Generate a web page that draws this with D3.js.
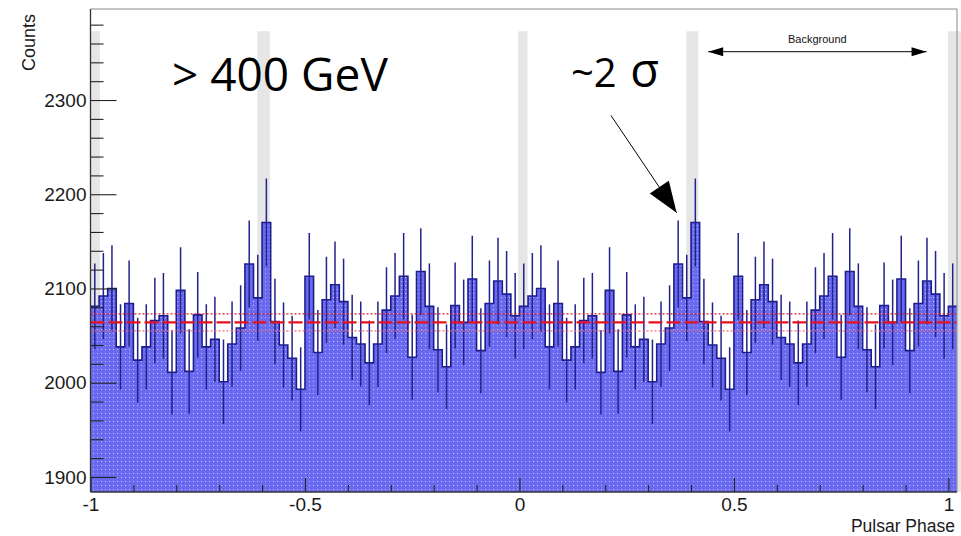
<!DOCTYPE html>
<html><head><meta charset="utf-8">
<script src="https://cdn.jsdelivr.net/npm/d3@7"></script>
<style>
body{margin:0;background:#fff}
svg{display:block}
</style>
</head><body>
<svg id="chart" width="961" height="536"></svg>
<script>
// Event counts per phase bin over one pulsar period (bin width 0.02), folded light curve
const binWidth = 0.02;
const periodCounts = [
  2081, 2092, 2100, 2038, 2084, 2024, 2038, 2066, 2071, 2011,
  2098, 2012, 2072, 2038, 2046, 2001, 2041, 2058, 2126, 2090,
  2170, 2065, 2040, 2026, 1993, 2113, 2032, 2088, 2104, 2086,
  2048, 2041, 2021, 2041, 2077, 2092, 2113, 2027, 2118, 2081,
  2035, 2017, 2082, 2064, 2110, 2034, 2084, 2108, 2094, 2071
];
// the period is shown repeated from phase -1 up to the end of the axis
const periodStarts = [-1, 0, 1];
const phaseMin = -1, phaseMax = 1.02;

const xTicks = [-1, -0.5, 0, 0.5, 1];
const xTickLabels = ["-1", "-0.5", "0", "0.5", "1"];
const xMinorTicks = d3.range(-10, 11).map(i => i / 10);
const yTicks = [1900, 2000, 2100, 2200, 2300];
const yTickLabels = ["1900", "2000", "2100", "2200", "2300"];
const yMinorTicks = d3.range(1900, 2381, 20);

// background level (mean and +-1 sigma band)
const bgLevel = 2064, bgLow = 2055, bgHigh = 2073;

// shaded phase windows (main pulse and interpulse)
const bandStart = [-1.0, -0.611, -0.003, 0.389, 0.999];
const bandEnd   = [-0.978, -0.582, 0.019, 0.417, 1.03];
const bandTop = 2373;

// phase span of the background region
const bgRegion = [0.44, 0.949];

const frameL = 90.5, frameR = 957, frameT = 9, frameB = 492;
const sans = '"Liberation Sans", Arial, Helvetica, sans-serif';
const big = '"Open Sans", "Noto Sans", sans-serif';

const x = d3.scaleLinear().domain([phaseMin, phaseMax]).range([frameL, frameR]);
const y = d3.scaleLinear().domain([1884, 2396.6]).range([frameB, frameT]);

const svg = d3.select("#chart");
const defs = svg.append("defs");

// ROOT-like dotted fill: solid blue with a faint hole in each tile
const fillBlue = "#6a6af0";
const pat = defs.append("pattern").attr("id", "dots")
  .attr("width", 4).attr("height", 4).attr("patternUnits", "userSpaceOnUse");
pat.append("path").attr("d", "M0,0H4V4H0Z M1,1V2H2V1Z")
  .attr("fill", fillBlue).attr("fill-rule", "evenodd");
pat.append("rect").attr("x", 1).attr("y", 1).attr("width", 1).attr("height", 1)
  .attr("fill", fillBlue).attr("opacity", 0.4);

defs.append("clipPath").attr("id", "frame")
  .append("rect").attr("x", frameL).attr("y", frameT)
  .attr("width", frameR - frameL).attr("height", frameB - frameT);

// bins built from the single-period counts
const bins = [];
periodStarts.forEach(p => periodCounts.forEach((c, i) => {
  const x0 = p + i * binWidth;
  if (x0 < phaseMax - 1e-9) bins.push({ x0: x0, x1: x0 + binWidth, count: c });
}));

// shaded windows
svg.append("g").selectAll("rect").data(bandStart).join("rect")
  .attr("x", d => x(d))
  .attr("width", (d, i) => x(bandEnd[i]) - x(d))
  .attr("y", y(bandTop))
  .attr("height", frameB - y(bandTop))
  .attr("fill", "#e6e6e6");

const plot = svg.append("g").attr("clip-path", "url(#frame)");

const stepPts = bins.map(b => [b.x0, b.count]);
stepPts.push([bins[bins.length - 1].x1, bins[bins.length - 1].count]);

plot.append("path")
  .datum(stepPts)
  .attr("d", d3.area().curve(d3.curveStepAfter)
    .x(d => x(d[0])).y0(frameB).y1(d => y(d[1])))
  .attr("fill", "url(#dots)");

plot.append("path")
  .datum(stepPts)
  .attr("d", d3.line().curve(d3.curveStepAfter)
    .x(d => x(d[0])).y(d => y(d[1])))
  .attr("fill", "none").attr("stroke", "#1c1c8e").attr("stroke-width", 1.6);

// Poisson error bars
plot.append("g").selectAll("line").data(bins).join("line")
  .attr("x1", d => x((d.x0 + d.x1) / 2))
  .attr("x2", d => x((d.x0 + d.x1) / 2))
  .attr("y1", d => y(d.count - Math.sqrt(d.count)))
  .attr("y2", d => y(d.count + Math.sqrt(d.count)))
  .attr("stroke", "#22228c").attr("stroke-width", 1.5);

// background mean and band
const bgLine = (v, dash, color, w) => plot.append("line")
  .attr("x1", frameL).attr("x2", frameR).attr("y1", y(v)).attr("y2", y(v))
  .attr("stroke", color).attr("stroke-width", w).attr("stroke-dasharray", dash);
bgLine(bgHigh, "2,2", "#d81a2a", 1.4);
bgLine(bgLow, "2,2", "#f06a78", 1.4);
bgLine(bgLevel, "14,4", "#e8101c", 2.4);

// frame
svg.append("line").attr("x1", frameL).attr("x2", frameR).attr("y1", frameT).attr("y2", frameT)
  .attr("stroke", "#8a8a8a").attr("stroke-width", 1.2);
svg.append("line").attr("x1", frameR).attr("x2", frameR).attr("y1", frameT).attr("y2", frameB)
  .attr("stroke", "#9a9a9a").attr("stroke-width", 1.2);

// axes with inward ticks
const yMajor = svg.append("g").attr("transform", `translate(${frameL},0)`)
  .call(d3.axisLeft(y).tickValues(yTicks).tickSize(-26).tickPadding(4)
    .tickFormat((d, i) => yTickLabels[i]));
const yMinor = svg.append("g").attr("transform", `translate(${frameL},0)`)
  .call(d3.axisLeft(y).tickValues(yMinorTicks.filter(v => v % 100 !== 0))
    .tickSize(-13).tickFormat(""));
const xMajor = svg.append("g").attr("transform", `translate(0,${frameB})`)
  .call(d3.axisBottom(x).tickValues(xTicks).tickSize(-14).tickPadding(6)
    .tickFormat((d, i) => xTickLabels[i]));
const xMinor = svg.append("g").attr("transform", `translate(0,${frameB})`)
  .call(d3.axisBottom(x).tickValues(xMinorTicks.filter(v => Math.abs(v * 2 - Math.round(v * 2)) > 1e-6))
    .tickSize(-7).tickFormat(""));
[yMajor, yMinor, xMajor, xMinor].forEach(g => {
  g.select(".domain").remove();
  g.selectAll(".tick line").attr("stroke", "#222").attr("stroke-width", 1.1);
  g.selectAll("text").style("font-family", sans).style("font-size", "19px").attr("fill", "#1a1a1a");
});

svg.append("line").attr("x1", frameL).attr("x2", frameL).attr("y1", frameT).attr("y2", frameB)
  .attr("stroke", "#333").attr("stroke-width", 1.3);
svg.append("line").attr("x1", frameL).attr("x2", frameR).attr("y1", frameB).attr("y2", frameB)
  .attr("stroke", "#333").attr("stroke-width", 1.3);

// axis titles
svg.append("text").attr("transform", "translate(35,14) rotate(-90)")
  .attr("text-anchor", "end").style("font-family", sans).style("font-size", "18px")
  .attr("fill", "#1a1a1a").text("Counts");
svg.append("text").attr("x", 955).attr("y", 531.5)
  .attr("text-anchor", "end").style("font-family", sans).style("font-size", "17.5px")
  .attr("fill", "#1a1a1a").text("Pulsar Phase");

// annotations
svg.append("text").attr("x", 172).attr("y", 91)
  .style("font-family", big).style("font-size", "46px").attr("fill", "#000")
  .text("> 400 GeV");
const sig = svg.append("text").attr("x", 571).attr("y", 87)
  .style("font-family", big).style("font-size", "40px").attr("fill", "#000");
sig.append("tspan").text("~2 ");
sig.append("tspan").attr("dx", 3).style("font-size", "47px").text("σ");

function arrowHead(tip, from, len, half) {
  const dx = tip[0] - from[0], dy = tip[1] - from[1];
  const L = Math.hypot(dx, dy), ux = dx / L, uy = dy / L;
  const bx = tip[0] - ux * len, by = tip[1] - uy * len;
  return [[tip[0], tip[1]], [bx - uy * half, by + ux * half], [bx + uy * half, by - ux * half]];
}

// arrow pointing at the interpulse bin
const aFrom = [x(0.2133), y(2283.6)], aTip = [x(0.3664), y(2180.3)];
svg.append("line").attr("x1", aFrom[0]).attr("y1", aFrom[1])
  .attr("x2", aTip[0]).attr("y2", aTip[1]).attr("stroke", "#000").attr("stroke-width", 1);
svg.append("polygon").attr("points", arrowHead(aTip, aFrom, 31, 11.5).join(" ")).attr("fill", "#000");

// background region double arrow
const arrowY = 51.7;
const bL = [x(bgRegion[0]), arrowY], bR = [x(bgRegion[1]), arrowY];
svg.append("line").attr("x1", bL[0]).attr("x2", bR[0]).attr("y1", arrowY).attr("y2", arrowY)
  .attr("stroke", "#000").attr("stroke-width", 1);
svg.append("polygon").attr("points", arrowHead(bL, bR, 15, 4.5).join(" ")).attr("fill", "#000");
svg.append("polygon").attr("points", arrowHead(bR, bL, 15, 4.5).join(" ")).attr("fill", "#000");
svg.append("text").attr("x", (bL[0] + bR[0]) / 2).attr("y", 43)
  .attr("text-anchor", "middle").style("font-family", sans).style("font-size", "11px")
  .attr("fill", "#111").text("Background");
</script>
</body></html>
